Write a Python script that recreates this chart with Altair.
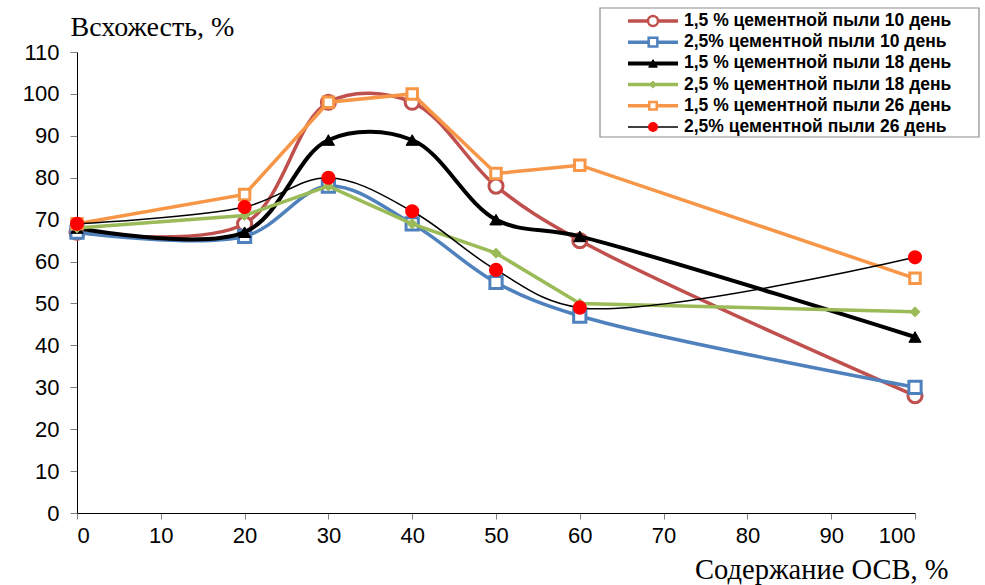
import altair as alt
import pandas as pd

# ОСВ content, % (x axis)
osv = [0, 20, 30, 40, 50, 60, 100]

labels = [
    "1,5 % цементной пыли 10 день",
    "2,5% цементной пыли 10 день",
    "1,5 % цементной пыли 18 день",
    "2,5 % цементной пыли 18 день",
    "1,5 % цементной пыли 26 день",
    "2,5% цементной пыли 26 день",
]

# germination, % for each series
s1 = [67, 69, 98, 98, 78, 65, 28]
s2 = [67, 66, 78, 69, 55, 47, 30]
s3 = [68, 67, 89, 89, 70, 66, 42]
s4 = [68, 71, 78, 69, 62, 50, 48]
s5 = [69, 76, 98, 100, 81, 83, 56]
s6 = [69, 73, 80, 72, 58, 49, 61]
values = [s1, s2, s3, s4, s5, s6]

y_ticks = list(range(0, 111, 10))
x_ticks = list(range(0, 101, 10))

# per-series styling: line colour, line width, interpolation, marker
styles = [
    dict(line="#C0504D", width=3.5, interp="catmull-rom", shape="circle", size=200,
         fill="white", stroke="#C0504D", sw=3),
    dict(line="#4F81BD", width=3.5, interp="catmull-rom", shape="square", size=150,
         fill="white", stroke="#4F81BD", sw=3),
    dict(line="#000000", width=4, interp="catmull-rom", shape="triangle-up", size=150,
         fill="#000000", stroke="#000000", sw=1),
    dict(line="#9BBB59", width=3.5, interp="linear", shape="diamond", size=100,
         fill="#9BBB59", stroke="#9BBB59", sw=1),
    dict(line="#F79646", width=3.5, interp="linear", shape="square", size=110,
         fill="white", stroke="#F79646", sw=3),
    dict(line="#000000", width=1.5, interp="catmull-rom", shape="circle", size=200,
         fill="#FF0000", stroke="#FF0000", sw=0),
]

PLOT_W, PLOT_H = 838, 461

x_enc = alt.X(
    "osv:Q",
    scale=alt.Scale(domain=[0, 100], nice=False, zero=False),
    axis=alt.Axis(
        values=x_ticks, grid=False, domainColor="black", domainWidth=1,
        tickColor="#808080", tickSize=6, labelFont="Liberation Sans",
        labelFontSize=22, labelColor="black", labelPadding=6,
        title="Содержание ОСВ, %", titleFont="Liberation Serif",
        titleFontSize=28.5, titleFontWeight="normal", titleColor="black",
        titleAnchor="end", titleAlign="right", titleX=871, titleY=65,
        titleBaseline="alphabetic",
    ),
)
y_enc = alt.Y(
    "val:Q",
    scale=alt.Scale(domain=[0, 110], nice=False),
    axis=alt.Axis(
        values=y_ticks, grid=False, domainColor="black", domainWidth=1,
        tickColor="#808080", tickSize=7, labelFont="Liberation Sans",
        labelFontSize=22, labelColor="black", labelPadding=11,
        title="Всхожесть, %", titleFont="Liberation Serif",
        titleFontSize=28, titleFontWeight="normal", titleColor="black",
        titleAngle=0, titleAlign="left", titleX=-7, titleY=-17,
        titleBaseline="alphabetic",
    ),
)

layers = []
for lab, vals, st in zip(labels, values, styles):
    df = pd.DataFrame({"osv": osv, "val": vals, "series": lab})
    base = alt.Chart(df).encode(x=x_enc, y=y_enc)
    layers.append(
        base.mark_line(color=st["line"], strokeWidth=st["width"],
                       interpolate=st["interp"])
    )
    layers.append(
        base.mark_point(shape=st["shape"], size=st["size"], filled=True,
                        fill=st["fill"], stroke=st["stroke"],
                        strokeWidth=st["sw"], opacity=1)
    )

# legend box with line-and-marker samples
leg_top, leg_step = -31, 21.2
leg_rows = [leg_top + i * leg_step for i in range(len(labels))]

box = alt.Chart(pd.DataFrame({"a": [0]})).mark_rect(
    fill="white", stroke="#8c8c8c", strokeWidth=1.2
).encode(x=alt.value(523), x2=alt.value(902), y=alt.value(-44), y2=alt.value(85))
layers.append(box)

for lab, ly, st in zip(labels, leg_rows, styles):
    ldf = pd.DataFrame({"lx": [551], "lx2": [601], "mx": [576], "tx": [607],
                        "ly": [ly], "label": [lab]})
    lb = alt.Chart(ldf)
    layers.append(
        lb.mark_rule(color=st["line"], strokeWidth=st["width"]).encode(
            x=alt.X("lx:Q", scale=None), x2="lx2:Q", y=alt.Y("ly:Q", scale=None)
        )
    )
    layers.append(
        lb.mark_point(shape=st["shape"], size=st["size"] * 0.5, filled=True,
                      fill=st["fill"], stroke=st["stroke"],
                      strokeWidth=min(st["sw"], 2.5), opacity=1).encode(
            x=alt.X("mx:Q", scale=None), y=alt.Y("ly:Q", scale=None)
        )
    )
    layers.append(
        lb.mark_text(align="left", baseline="middle", font="Liberation Sans",
                     fontSize=17.5, fontWeight="bold", color="black").encode(
            x=alt.X("tx:Q", scale=None), y=alt.Y("ly:Q", scale=None),
            text="label:N"
        )
    )

chart = alt.layer(*layers).properties(
    width=PLOT_W, height=PLOT_H,
    autosize=alt.AutoSizeParams(type="none"),
    padding={"left": 77, "top": 52, "right": 70, "bottom": 72},
    background="white",
).configure_view(stroke=None)

chart.save("out.html", embed_options={"renderer": "svg", "actions": False})
